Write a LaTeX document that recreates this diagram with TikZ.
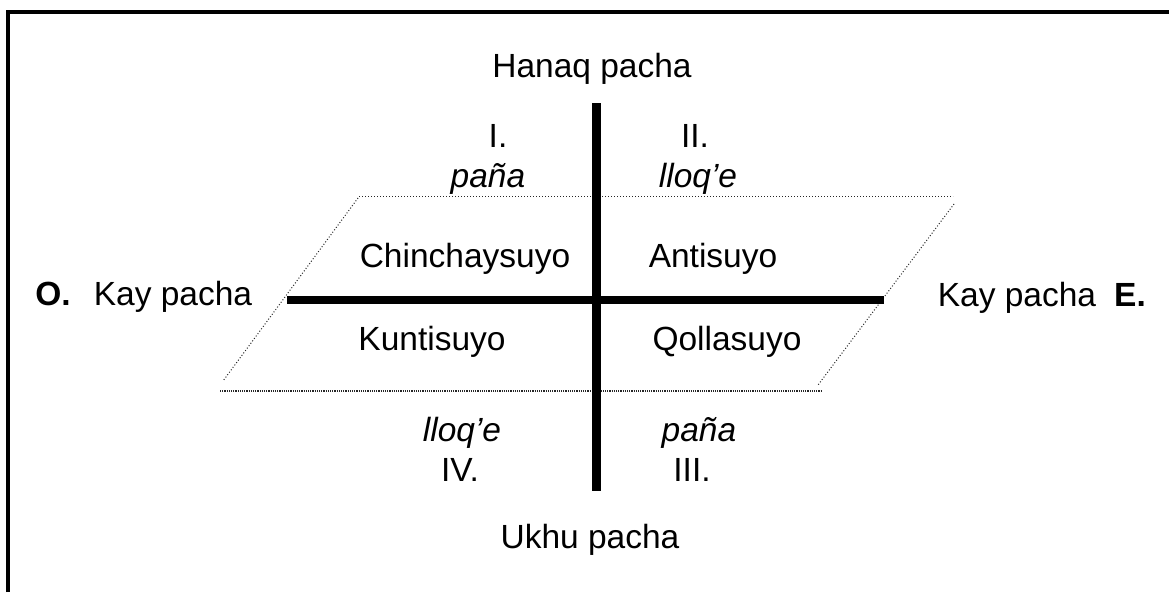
\documentclass[tikz,border=0pt]{standalone}
\usepackage{fontspec}
\setmainfont{Liberation Sans}
\begin{document}
\begin{tikzpicture}[x=1pt,y=-1pt,
  lbl/.style={anchor=base,inner sep=0pt,font=\fontsize{33.5}{40}\selectfont},
  ilbl/.style={lbl,font=\fontsize{33.5}{40}\selectfont\itshape},
  blbl/.style={lbl,font=\fontsize{33.5}{40}\selectfont\bfseries},
  axis/.style={line width=8.5pt},
  plane/.style={line width=1pt,dotted,black!85},
  planebase/.style={line width=1.6pt,dash pattern=on 1.2pt off 1pt,black!85},
  frame/.style={line width=4pt,line join=miter}]
\useasboundingbox (0,0) rectangle (1169,592);
% frame (open on right and bottom)
\coordinate (fbl) at (8,592);
\coordinate (ftl) at (8,12.3);
\coordinate (ftr) at (1169,12.3);
\draw[frame] (fbl) -- (ftl) -- (ftr);
% plane
\coordinate (ptl) at (359,196);
\coordinate (ptr) at (953,196);
\coordinate (prt) at (954,204);
\coordinate (prb) at (818,385);
\coordinate (plt) at (358,198);
\coordinate (plb) at (223,381);
\coordinate (pbl) at (220,391);
\coordinate (pbr) at (822,391);
\draw[plane] (ptl) -- (ptr);
\draw[plane] (prt) -- (prb);
\draw[plane] (plt) -- (plb);
\draw[planebase] (pbl) -- (pbr);
% axes
\coordinate (vt) at (596.5,103);
\coordinate (vb) at (596.5,491);
\coordinate (hl) at (287,300);
\coordinate (hr) at (884,300);
\draw[axis] (vt) -- (vb);
\draw[axis] (hl) -- (hr);
% labels
\node[lbl] (hanaq) at (592,77) {Hanaq pacha};
\node[lbl] (n1) at (498,147) {I.};
\node[ilbl] (pana1) at (488,187) {paña};
\node[lbl] (n2) at (695,147) {II.};
\node[ilbl] (lloq1) at (698,187) {lloq’e};
\node[lbl] (chin) at (465,267) {Chinchaysuyo};
\node[lbl] (anti) at (713,267) {Antisuyo};
\node[lbl] (kunti) at (432,350) {Kuntisuyo};
\node[lbl] (qolla) at (727,350) {Qollasuyo};
\node[blbl] (west) at (53,305) {O.};
\node[lbl] (kayw) at (173,305) {Kay pacha};
\node[lbl] (kaye) at (1017,306) {Kay pacha};
\node[blbl] (east) at (1130,306) {E.};
\node[ilbl] (lloq2) at (462,441) {lloq’e};
\node[lbl] (n4) at (460,481) {IV.};
\node[ilbl] (pana2) at (699,441) {paña};
\node[lbl] (n3) at (692,481) {III.};
\node[lbl] (ukhu) at (590,548) {Ukhu pacha};
\end{tikzpicture}
\end{document}
